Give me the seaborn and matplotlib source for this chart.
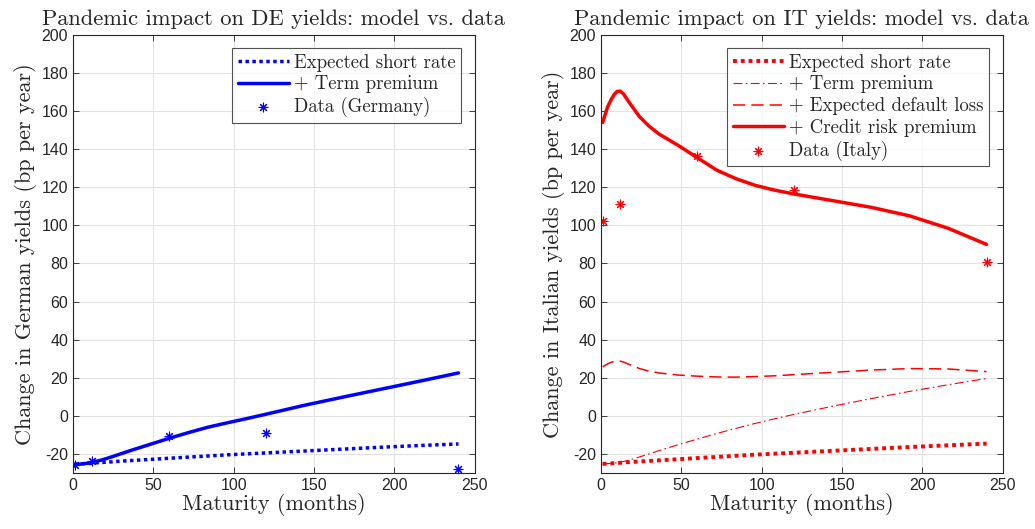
import numpy as np
import pandas as pd
import matplotlib
matplotlib.use("Agg")
import matplotlib.pyplot as plt
import seaborn as sns

# ---- data ----
maturity = [1, 4, 6, 8, 10, 12, 14, 18, 24, 30, 36, 48, 60, 72, 84, 96, 108, 120, 144, 168, 192, 216, 240]

de_short_rate = [-25.5, -25.3, -25.2, -25.1, -25.0, -24.9, -24.7, -24.5, -24.2, -23.8, -23.5, -22.9,
                 -22.3, -21.7, -21.1, -20.5, -20.0, -19.5, -18.5, -17.5, -16.5, -15.6, -14.8]
de_term_premium = [-25.5, -25.4, -25.2, -25.0, -24.8, -24.5, -24.0, -23.2, -21.6, -19.9, -18.2, -15.0,
                   -11.8, -8.8, -6.0, -3.7, -1.5, 0.8, 5.5, 9.8, 14.0, 18.2, 22.5]

it_short_rate = [-25.3, -25.1, -25.0, -24.9, -24.8, -24.7, -24.5, -24.3, -24.0, -23.7, -23.4, -22.8,
                 -22.2, -21.6, -21.0, -20.4, -19.9, -19.4, -18.4, -17.4, -16.4, -15.5, -14.6]
it_term_premium = [-25.3, -25.1, -25.0, -24.8, -24.6, -24.3, -24.0, -23.2, -21.6, -20.0, -18.3, -15.2,
                   -12.2, -9.3, -6.6, -4.0, -1.6, 0.7, 5.0, 9.0, 12.8, 16.3, 19.6]
it_default_loss = [25.7, 27.2, 28.0, 28.5, 28.8, 28.7, 28.2, 26.8, 24.8, 23.4, 22.5, 21.4,
                   20.8, 20.4, 20.3, 20.6, 21.0, 21.6, 22.8, 24.0, 24.8, 24.6, 23.2]
it_credit_premium = [154, 162, 165.5, 168.5, 170.3, 170.5, 169, 164, 157, 152, 148, 142,
                     135.5, 129, 124.5, 121, 118.5, 116.5, 113, 109.5, 105, 98.5, 90]

data_maturity = [1, 12, 60, 120, 240]
de_data = [-25.7, -23.5, -10.5, -9.0, -28.0]
it_data = [102.5, 111.4, 136.2, 118.6, 80.8]

x_ticks = [0, 50, 100, 150, 200, 250]
y_ticks = list(range(-20, 201, 20))

# ---- style ----
sns.set_style("ticks")
plt.rcParams["font.family"] = ["Liberation Sans", "DejaVu Sans"]
plt.rcParams["axes.unicode_minus"] = False
SERIF = ["cmr10", "DejaVu Serif"]

fig = plt.figure(figsize=(10.35, 5.29), dpi=100)
ax1 = fig.add_axes([0.0705, 0.106, 0.388, 0.828])
ax2 = fig.add_axes([0.5807, 0.106, 0.388, 0.828])

BLUE = (0, 0, 1)
RED = (1, 0, 0)
star = (8, 2, 0)

# left panel
sns.lineplot(x=maturity, y=de_short_rate, ax=ax1, color=BLUE, lw=2.5, linestyle=(0, (1, 1)),
             label="Expected short rate")
sns.lineplot(x=maturity, y=de_term_premium, ax=ax1, color=BLUE, lw=2.5, label="+ Term premium")
sns.scatterplot(x=data_maturity, y=de_data, ax=ax1, color=BLUE, marker=star, s=40, linewidth=0.8,
                edgecolor=BLUE, label="Data (Germany)")

# right panel
sns.lineplot(x=maturity, y=it_short_rate, ax=ax2, color=RED, lw=2.8, linestyle=(0, (1, 1)),
             label="Expected short rate")
sns.lineplot(x=maturity, y=it_term_premium, ax=ax2, color=RED, lw=0.8, linestyle=(0, (8, 3, 1.5, 3)),
             label="+ Term premium")
sns.lineplot(x=maturity, y=it_default_loss, ax=ax2, color=RED, lw=1.1, linestyle=(0, (8, 4)),
             label="+ Expected default loss")
sns.lineplot(x=maturity, y=it_credit_premium, ax=ax2, color=RED, lw=2.5, label="+ Credit risk premium")
sns.scatterplot(x=data_maturity, y=it_data, ax=ax2, color=RED, marker=star, s=40, linewidth=0.8,
                edgecolor=RED, label="Data (Italy)")

titles = ["Pandemic impact on DE yields: model vs. data", "Pandemic impact on IT yields: model vs. data"]
ylabels = ["Change in German yields (bp per year)", "Change in Italian yields (bp per year)"]

for ax, t, yl in zip([ax1, ax2], titles, ylabels):
    ax.set_xlim(0, 250)
    ax.set_ylim(-30, 200)
    ax.set_xticks(x_ticks)
    ax.set_yticks(y_ticks)
    ax.grid(True, color="#e3e3e3", lw=0.8)
    ax.set_axisbelow(True)
    ax.tick_params(direction="in", top=True, right=True, labelsize=11.5, colors="#262626",
                   length=4, width=0.6)
    for s in ax.spines.values():
        s.set_visible(True)
        s.set_color("#262626")
        s.set_linewidth(0.8)
    ax.set_title(t, fontsize=16.2, family=SERIF, pad=7)
    ax.set_xlabel("Maturity (months)", fontsize=16, family=SERIF, labelpad=0)
    ax.set_ylabel(yl, fontsize=16, family=SERIF, labelpad=3)
    leg = ax.legend(loc="upper right", prop={"family": SERIF, "size": 13.5}, frameon=True,
                    fancybox=False, edgecolor="#262626", handlelength=2.7, handletextpad=0.3,
                    borderpad=0.3, labelspacing=0.2, borderaxespad=0.7)
    leg.get_frame().set_linewidth(0.8)

fig.savefig("out.png", dpi=100)
